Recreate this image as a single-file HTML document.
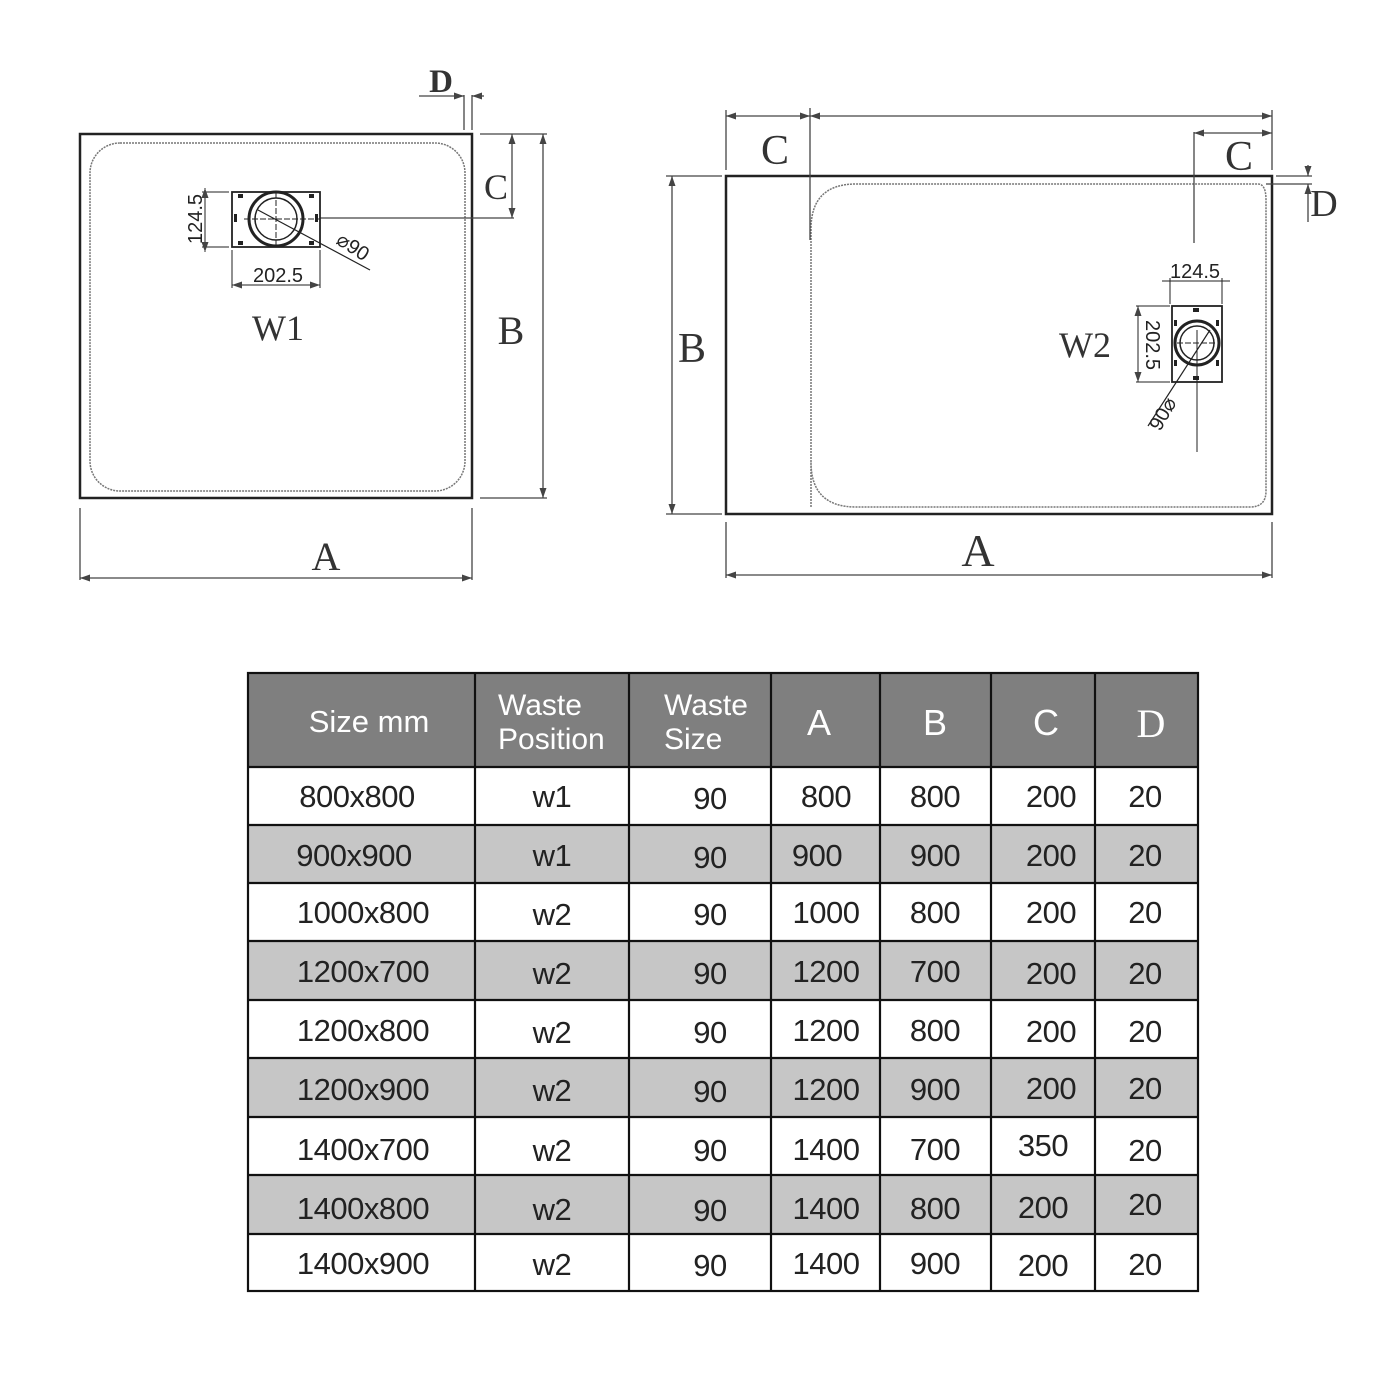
<!DOCTYPE html>
<html><head><meta charset="utf-8"><style>
html,body{margin:0;padding:0;background:#fff;}
svg{display:block;}
.s{font-family:"Liberation Serif",serif;fill:#333;}
.t{font-family:"Liberation Sans",sans-serif;}
</style></head><body>
<svg width="1400" height="1400" viewBox="0 0 1400 1400" xmlns="http://www.w3.org/2000/svg">
<defs>
<marker id="ar" viewBox="0 0 10 10" refX="10" refY="5" markerWidth="10" markerHeight="10" orient="auto-start-reverse" markerUnits="userSpaceOnUse"><path d="M0,1.5 L10,5 L0,8.5z" fill="#444"/></marker>
</defs>
<!-- ===== W1 ===== -->
<rect x="80" y="134" width="392" height="364" fill="none" stroke="#222" stroke-width="2.5"/>
<rect x="90" y="143" width="375" height="348" rx="30" fill="none" stroke="#777" stroke-width="1.5" stroke-dasharray="2 1"/>
<line x1="464" y1="95" x2="464" y2="130" stroke="#444" stroke-width="1.3"/>
<line x1="472" y1="95" x2="472" y2="130" stroke="#444" stroke-width="1.3"/>
<line x1="419" y1="96" x2="464" y2="96" stroke="#444" stroke-width="1.3" marker-end="url(#ar)"/>
<line x1="484" y1="96" x2="472" y2="96" stroke="#444" stroke-width="1.3" marker-end="url(#ar)"/>
<text x="441" y="92" class="s" font-size="33" text-anchor="middle" font-weight="bold">D</text>
<line x1="480" y1="134" x2="547" y2="134" stroke="#444" stroke-width="1.3"/>
<line x1="512" y1="134" x2="512" y2="218" stroke="#444" stroke-width="1.3" marker-start="url(#ar)" marker-end="url(#ar)"/>
<line x1="320" y1="218" x2="514" y2="218" stroke="#444" stroke-width="1.3"/>
<text x="496" y="199" class="s" font-size="36" text-anchor="middle">C</text>
<line x1="543" y1="134" x2="543" y2="498" stroke="#444" stroke-width="1.3" marker-start="url(#ar)" marker-end="url(#ar)"/>
<line x1="480" y1="498" x2="547" y2="498" stroke="#444" stroke-width="1.3"/>
<text x="511" y="344" class="s" font-size="40" text-anchor="middle">B</text>
<line x1="80" y1="508" x2="80" y2="580" stroke="#444" stroke-width="1.3"/>
<line x1="472" y1="508" x2="472" y2="580" stroke="#444" stroke-width="1.3"/>
<line x1="80" y1="578" x2="472" y2="578" stroke="#444" stroke-width="1.3" marker-start="url(#ar)" marker-end="url(#ar)"/>
<text x="326" y="570" class="s" font-size="40" text-anchor="middle">A</text>
<text x="278" y="340" class="s" font-size="36" text-anchor="middle">W1</text>
<g stroke="#222" fill="none">
<rect x="232" y="192" width="88" height="55" stroke-width="1.8"/>
<circle cx="276" cy="219" r="27" stroke-width="3"/>
<circle cx="276" cy="219" r="21" stroke-width="1.5"/>
<line x1="244" y1="219" x2="320" y2="219" stroke-width="1" stroke-dasharray="6 2"/>
<line x1="276" y1="192" x2="276" y2="247" stroke-width="1" stroke-dasharray="6 2"/>
<line x1="258" y1="210" x2="370" y2="270" stroke-width="1.2"/>
<line x1="229" y1="192" x2="202" y2="192" stroke-width="1"/>
<line x1="229" y1="247" x2="202" y2="247" stroke-width="1"/>
<line x1="205" y1="188" x2="205" y2="252" stroke-width="1" marker-start="url(#ar)" marker-end="url(#ar)"/>
<line x1="232" y1="250" x2="232" y2="288" stroke-width="1"/>
<line x1="320" y1="250" x2="320" y2="288" stroke-width="1"/>
<line x1="232" y1="285" x2="320" y2="285" stroke-width="1" marker-start="url(#ar)" marker-end="url(#ar)"/>
</g>
<g fill="#222"><rect x="238" y="194" width="5" height="4"/><rect x="309" y="194" width="5" height="4"/><rect x="238" y="241" width="5" height="4"/><rect x="309" y="241" width="5" height="4"/><rect x="234" y="214" width="3" height="8"/><rect x="315" y="214" width="3" height="8"/></g>
<text x="278" y="282" class="t" font-size="20" text-anchor="middle" fill="#222">202.5</text>
<text class="t" font-size="20" fill="#222" transform="translate(202,244) rotate(-90)">124.5</text>
<text class="t" font-size="20" fill="#222" transform="translate(335,243) rotate(33)">⌀90</text>
<!-- ===== W2 ===== -->
<rect x="726" y="176" width="546" height="338" fill="none" stroke="#222" stroke-width="2.5"/>
<path d="M811,507 L811,229 Q811,184 856,184 L1258,184 Q1266,184 1266,200 L1266,491 Q1266,507 1250,507 L856,507 Q811,507 811,462" fill="none" stroke="#777" stroke-width="1.5" stroke-dasharray="2 1"/>
<line x1="726" y1="110" x2="726" y2="170" stroke="#444" stroke-width="1.3"/>
<line x1="810" y1="108" x2="810" y2="240" stroke="#444" stroke-width="1.3"/>
<line x1="1272" y1="110" x2="1272" y2="170" stroke="#444" stroke-width="1.3"/>
<line x1="726" y1="116" x2="810" y2="116" stroke="#444" stroke-width="1.3" marker-start="url(#ar)" marker-end="url(#ar)"/>
<line x1="810" y1="116" x2="1272" y2="116" stroke="#444" stroke-width="1.3" marker-start="url(#ar)" marker-end="url(#ar)"/>
<line x1="1194" y1="132" x2="1194" y2="243" stroke="#444" stroke-width="1.3"/>
<line x1="1194" y1="133" x2="1272" y2="133" stroke="#444" stroke-width="1.3" marker-start="url(#ar)" marker-end="url(#ar)"/>
<text x="775" y="164" class="s" font-size="42" text-anchor="middle">C</text>
<text x="1239" y="170" class="s" font-size="42" text-anchor="middle">C</text>
<line x1="1276" y1="176" x2="1312" y2="176" stroke="#444" stroke-width="1.3"/>
<line x1="1266" y1="184" x2="1312" y2="184" stroke="#444" stroke-width="1.3"/>
<line x1="1308" y1="165" x2="1308" y2="176" stroke="#444" stroke-width="1.3" marker-end="url(#ar)"/>
<line x1="1308" y1="222" x2="1308" y2="184" stroke="#444" stroke-width="1.3" marker-end="url(#ar)"/>
<text x="1324" y="216" class="s" font-size="38" text-anchor="middle">D</text>
<line x1="666" y1="176" x2="722" y2="176" stroke="#444" stroke-width="1.3"/>
<line x1="666" y1="514" x2="722" y2="514" stroke="#444" stroke-width="1.3"/>
<line x1="672" y1="176" x2="672" y2="514" stroke="#444" stroke-width="1.3" marker-start="url(#ar)" marker-end="url(#ar)"/>
<text x="692" y="362" class="s" font-size="42" text-anchor="middle">B</text>
<line x1="726" y1="522" x2="726" y2="578" stroke="#444" stroke-width="1.3"/>
<line x1="1272" y1="522" x2="1272" y2="578" stroke="#444" stroke-width="1.3"/>
<line x1="726" y1="575" x2="1272" y2="575" stroke="#444" stroke-width="1.3" marker-start="url(#ar)" marker-end="url(#ar)"/>
<text x="978" y="566" class="s" font-size="46" text-anchor="middle">A</text>
<text x="1085" y="357" class="s" font-size="36" text-anchor="middle">W2</text>
<g stroke="#222" fill="none">
<rect x="1172" y="306" width="50" height="76" stroke-width="1.8"/>
<circle cx="1197" cy="343" r="22" stroke-width="3"/>
<circle cx="1197" cy="343" r="17" stroke-width="1.5"/>
<line x1="1177" y1="343" x2="1217" y2="343" stroke-width="1" stroke-dasharray="6 2"/>
<line x1="1197" y1="330" x2="1197" y2="452" stroke-width="1"/>
<line x1="1210" y1="330" x2="1148" y2="426" stroke-width="1.2"/>
<line x1="1170" y1="306" x2="1136" y2="306" stroke-width="1"/>
<line x1="1170" y1="382" x2="1136" y2="382" stroke-width="1"/>
<line x1="1138" y1="306" x2="1138" y2="382" stroke-width="1" marker-start="url(#ar)" marker-end="url(#ar)"/>
<line x1="1170" y1="278" x2="1170" y2="304" stroke-width="1"/>
<line x1="1222" y1="278" x2="1222" y2="304" stroke-width="1"/>
<line x1="1162" y1="281" x2="1230" y2="281" stroke-width="1"/>
</g>
<g fill="#222"><rect x="1193" y="308" width="6" height="4"/><rect x="1193" y="376" width="6" height="4"/><rect x="1174" y="320" width="3" height="6"/><rect x="1216" y="320" width="3" height="6"/><rect x="1174" y="360" width="3" height="6"/><rect x="1216" y="360" width="3" height="6"/></g>
<text x="1195" y="278" class="t" font-size="20" text-anchor="middle" fill="#222">124.5</text>
<text class="t" font-size="20" fill="#222" transform="translate(1146,320) rotate(90)">202.5</text>
<text class="t" font-size="20" fill="#222" transform="translate(1160,432) rotate(-60)">90⌀</text>
<!-- ===== TABLE ===== -->
<rect x="248" y="673" width="950" height="94" fill="#7f7f7f"/>
<g fill="#c6c6c6">
<rect x="248" y="825" width="950" height="58"/>
<rect x="248" y="941" width="950" height="59"/>
<rect x="248" y="1058" width="950" height="59"/>
<rect x="248" y="1175" width="950" height="59"/>
</g>
<g stroke="#111" stroke-width="2.2">
<rect x="248" y="673" width="950" height="618" fill="none"/>
<line x1="475" y1="673" x2="475" y2="1291"/><line x1="629" y1="673" x2="629" y2="1291"/>
<line x1="771" y1="673" x2="771" y2="1291"/><line x1="880" y1="673" x2="880" y2="1291"/>
<line x1="991" y1="673" x2="991" y2="1291"/><line x1="1095" y1="673" x2="1095" y2="1291"/>
<line x1="248" y1="767" x2="1198" y2="767"/><line x1="248" y1="825" x2="1198" y2="825"/>
<line x1="248" y1="883" x2="1198" y2="883"/><line x1="248" y1="941" x2="1198" y2="941"/>
<line x1="248" y1="1000" x2="1198" y2="1000"/><line x1="248" y1="1058" x2="1198" y2="1058"/>
<line x1="248" y1="1117" x2="1198" y2="1117"/><line x1="248" y1="1175" x2="1198" y2="1175"/>
<line x1="248" y1="1234" x2="1198" y2="1234"/>
</g>
<g class="t" fill="#fff" font-size="30">
<text x="369" y="732" text-anchor="middle" font-size="31">Size mm</text>
<text x="498" y="715">Waste</text><text x="498" y="749">Position</text>
<text x="664" y="715">Waste</text><text x="664" y="749">Size</text>
<text x="819" y="735" text-anchor="middle" font-size="36">A</text>
<text x="935" y="735" text-anchor="middle" font-size="36">B</text>
<text x="1046" y="735" text-anchor="middle" font-size="36">C</text>
<text x="1151" y="737" text-anchor="middle" font-size="40" font-family="Liberation Serif,serif">D</text>
</g>
<g class="t" fill="#222" font-size="31" text-anchor="middle" style="letter-spacing:-0.5px">
<text x="357" y="807">800x800</text><text x="552" y="807">w1</text><text x="710" y="809">90</text><text x="826" y="807">800</text><text x="935" y="807">800</text><text x="1051" y="807">200</text><text x="1145" y="807">20</text>
<text x="354" y="866">900x900</text><text x="552" y="866">w1</text><text x="710" y="868">90</text><text x="817" y="866">900</text><text x="935" y="866">900</text><text x="1051" y="866">200</text><text x="1145" y="866">20</text>
<text x="363" y="923">1000x800</text><text x="552" y="925">w2</text><text x="710" y="925">90</text><text x="826" y="923">1000</text><text x="935" y="923">800</text><text x="1051" y="923">200</text><text x="1145" y="923">20</text>
<text x="363" y="982">1200x700</text><text x="552" y="984">w2</text><text x="710" y="984">90</text><text x="826" y="982">1200</text><text x="935" y="982">700</text><text x="1051" y="984">200</text><text x="1145" y="984">20</text>
<text x="363" y="1041">1200x800</text><text x="552" y="1043">w2</text><text x="710" y="1043">90</text><text x="826" y="1041">1200</text><text x="935" y="1041">800</text><text x="1051" y="1042">200</text><text x="1145" y="1042">20</text>
<text x="363" y="1100">1200x900</text><text x="552" y="1101">w2</text><text x="710" y="1102">90</text><text x="826" y="1100">1200</text><text x="935" y="1100">900</text><text x="1051" y="1099">200</text><text x="1145" y="1099">20</text>
<text x="363" y="1160">1400x700</text><text x="552" y="1161">w2</text><text x="710" y="1161">90</text><text x="826" y="1160">1400</text><text x="935" y="1160">700</text><text x="1043" y="1156">350</text><text x="1145" y="1161">20</text>
<text x="363" y="1219">1400x800</text><text x="552" y="1220">w2</text><text x="710" y="1221">90</text><text x="826" y="1219">1400</text><text x="935" y="1219">800</text><text x="1043" y="1218">200</text><text x="1145" y="1215">20</text>
<text x="363" y="1274">1400x900</text><text x="552" y="1275">w2</text><text x="710" y="1276">90</text><text x="826" y="1274">1400</text><text x="935" y="1274">900</text><text x="1043" y="1276">200</text><text x="1145" y="1275">20</text>
</g>
</svg>
</body></html>
